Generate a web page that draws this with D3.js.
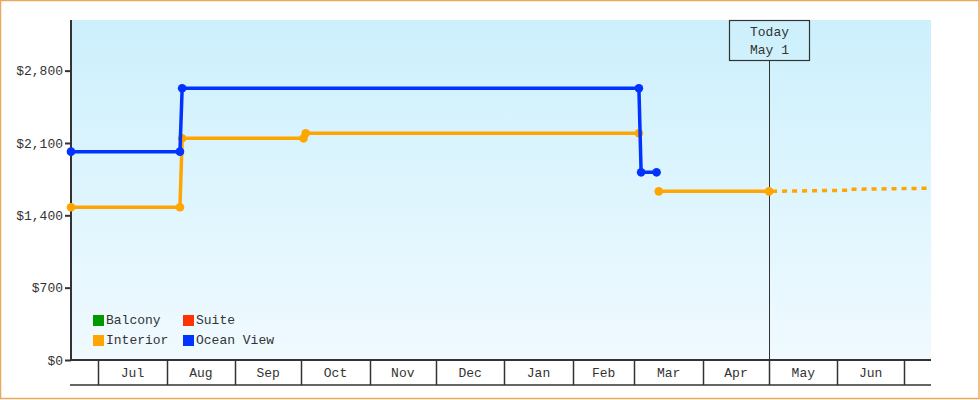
<!DOCTYPE html>
<html>
<head>
<meta charset="utf-8">
<script src="https://cdn.jsdelivr.net/npm/d3@7"></script>
<style>
  html, body { margin: 0; padding: 0; background: #fff; }
  svg { display: block; }
  text { font-family: "Liberation Mono", "DejaVu Sans Mono", monospace; font-size: 13px; fill: #333; }
</style>
</head>
<body>
<svg id="chart" width="980" height="400"></svg>
<script>
// ---- data ----
const seriesNames = ["Balcony", "Suite", "Interior", "Ocean View"];
const seriesColors = ["#009900", "#ff3300", "#ffa500", "#0033ff"];

const interiorDates = ["2022-06-18T15:00", "2022-08-07", "2022-08-08", "2022-10-02", "2022-10-03", "2023-03-03", null, "2023-03-12", "2023-05-01"];
const interiorValues = [1478, 1478, 2145, 2145, 2194, 2194, null, 1632, 1632];
const interiorMarkers = [true, true, true, true, true, true, false, true, true];

const interiorForecastDates = ["2023-05-01", "2023-06-07", "2023-06-07T06:00", "2023-07-13T09:00"];
const interiorForecastValues = [1632, 1643, 1652, 1662];

const oceanDates = ["2022-06-18T15:00", "2022-08-07", "2022-08-08", "2023-03-03", "2023-03-04", "2023-03-11"];
const oceanValues = [2016, 2016, 2629, 2629, 1816, 1816];

const yTicks = [0, 700, 1400, 2100, 2800];
const monthLabels = ["Jul", "Aug", "Sep", "Oct", "Nov", "Dec", "Jan", "Feb", "Mar", "Apr", "May", "Jun"];
const monthStarts = ["2022-07-01", "2022-08-01", "2022-09-01", "2022-10-01", "2022-11-01", "2022-12-01",
                     "2023-01-01", "2023-02-01", "2023-03-01", "2023-04-01", "2023-05-01", "2023-06-01", "2023-07-01"];
const todayDate = "2023-05-01";
const todayLabel = ["Today", "May 1"];
const xDomain = ["2022-06-18T15:00", "2023-07-13T09:00"];
const yMax = 3290;

// ---- drawing ----
(function () {
const parse = s => s == null ? null : new Date(s);
const svg = d3.select("#chart");
const L = 71, R = 931, T = 20, B = 360, AB = 385;
const FONT = "Liberation Mono";

const x = d3.scaleTime().domain(xDomain.map(parse)).range([L, R]);
const y = d3.scaleLinear().domain([0, yMax]).range([B, T]);

// outer border
svg.append("rect").attr("x", 0.5).attr("y", 0.5).attr("width", 978.5).attr("height", 398)
  .attr("fill", "#fff").attr("stroke", "#eba95f").attr("stroke-width", 1.5);

// background gradient
const defs = svg.append("defs");
const grad = defs.append("linearGradient").attr("id", "bg").attr("x1", 0).attr("y1", 0).attr("x2", 0).attr("y2", 1);
grad.append("stop").attr("offset", "0%").attr("stop-color", "#ccf0fc");
grad.append("stop").attr("offset", "100%").attr("stop-color", "#f0faff");
svg.append("rect").attr("x", L).attr("y", T).attr("width", R - L).attr("height", B - T)
  .attr("fill", "url(#bg)");

// y axis
const yAxis = d3.axisLeft(y).tickValues(yTicks).tickSize(6).tickPadding(2)
  .tickFormat(d => "$" + d3.format(",")(d));
const gy = svg.append("g").attr("transform", `translate(${L},0)`).call(yAxis);
gy.select(".domain").remove();
gy.selectAll(".tick line").attr("stroke", "#333").attr("stroke-width", 2);
gy.selectAll(".tick text").attr("font-family", FONT).attr("font-size", 13).attr("fill", "#333");
svg.append("line").attr("x1", L).attr("x2", L).attr("y1", T).attr("y2", B + 1)
  .attr("stroke", "#333").attr("stroke-width", 2);

// x axis band
svg.append("line").attr("x1", L - 1).attr("x2", R).attr("y1", B).attr("y2", B)
  .attr("stroke", "#333").attr("stroke-width", 2);
svg.append("line").attr("x1", L - 1).attr("x2", R).attr("y1", AB).attr("y2", AB)
  .attr("stroke", "#333").attr("stroke-width", 1.5);
const ms = monthStarts.map(parse);
svg.append("g").selectAll("line").data(ms).join("line")
  .attr("x1", d => Math.round(x(d)) + 0.5).attr("x2", d => Math.round(x(d)) + 0.5)
  .attr("y1", B).attr("y2", AB).attr("stroke", "#333").attr("stroke-width", 1.5);
svg.append("g").selectAll("text").data(monthLabels).join("text")
  .attr("x", (d, i) => (x(ms[i]) + x(ms[i + 1])) / 2)
  .attr("y", (B + AB) / 2 + 1)
  .attr("text-anchor", "middle").attr("dominant-baseline", "middle").text(d => d);

// today marker
const tx = Math.round(x(parse(todayDate))) + 0.5;
svg.append("line").attr("x1", tx).attr("x2", tx).attr("y1", 60).attr("y2", B)
  .attr("stroke", "#333").attr("stroke-width", 1);
svg.append("rect").attr("x", tx - 40).attr("y", 20.5).attr("width", 80).attr("height", 40)
  .attr("fill", "none").attr("stroke", "#333").attr("stroke-width", 1.2);
svg.append("g").selectAll("text").data(todayLabel).join("text")
  .attr("x", tx).attr("y", (d, i) => 32.5 + i * 18.5)
  .attr("text-anchor", "middle").attr("dominant-baseline", "middle").text(d => d);

// series
const line = d3.line().defined(d => d.v != null).x(d => x(d.d)).y(d => y(d.v));

function drawSeries(dates, values, color, markers) {
  const pts = dates.map((d, i) => ({ d: parse(d), v: values[i], m: markers ? markers[i] : true }));
  svg.append("path").datum(pts).attr("d", line).attr("fill", "none")
    .attr("stroke", color).attr("stroke-width", 3.5).attr("stroke-linejoin", "round");
  svg.append("g").selectAll("circle").data(pts.filter(p => p.v != null && p.m)).join("circle")
    .attr("cx", p => x(p.d)).attr("cy", p => y(p.v)).attr("r", 4.3).attr("fill", color);
}

// forecast (dashed)
const fpts = interiorForecastDates.map((d, i) => ({ d: parse(d), v: interiorForecastValues[i] }));
svg.append("path").datum(fpts).attr("d", line).attr("fill", "none")
  .attr("stroke", seriesColors[2]).attr("stroke-width", 3.5).attr("stroke-dasharray", "5,5")
  .attr("stroke-dashoffset", -3);

drawSeries(interiorDates, interiorValues, seriesColors[2], interiorMarkers);
drawSeries(oceanDates, oceanValues, seriesColors[3], null);

// legend
const legendPos = [[93, 315], [183, 315], [93, 335], [183, 335]];
const lg = svg.append("g").selectAll("g").data(seriesNames).join("g")
  .attr("transform", (d, i) => `translate(${legendPos[i][0]},${legendPos[i][1]})`);
lg.append("rect").attr("width", 11).attr("height", 11).attr("fill", (d, i) => seriesColors[i]);
lg.append("text").attr("x", 13).attr("y", 6).attr("dominant-baseline", "middle").text(d => d);
})();
</script>
</body>
</html>
